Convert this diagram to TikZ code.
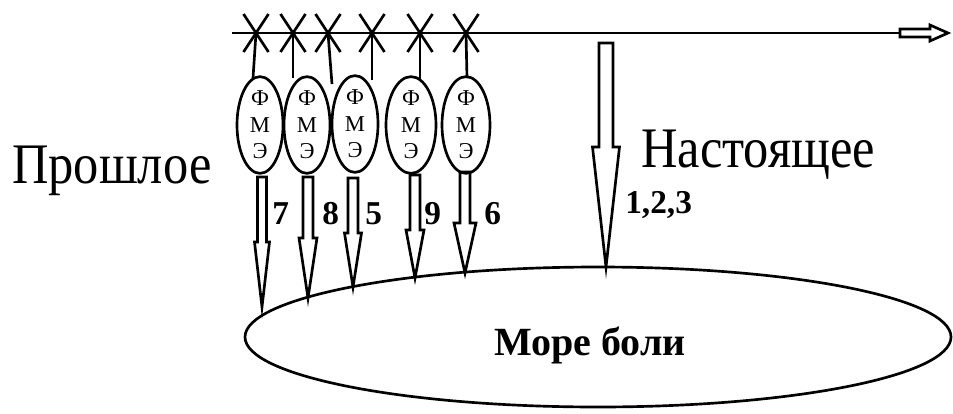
\documentclass[tikz,border=0pt]{standalone}
\usepackage{fontspec}
\IfFontExistsTF{LiberationSerif-Regular.ttf}
  {\setmainfont{LiberationSerif}[Extension=.ttf,UprightFont=*-Regular,BoldFont=*-Bold,ItalicFont=*-Italic,BoldItalicFont=*-BoldItalic]}
  {\setmainfont{Liberation Serif}}
\usetikzlibrary{calc,shapes.geometric}

% hollow downward arrow: start, tip, head length, half shaft width, half head width
\newcommand\hollowarrow[5]{%
  \draw[outline] ($(#1)+(-#4,0)$) -- ($(#1)+(#4,0)$) -- ($(#2)+(#4,-#3)$)
    -- ($(#2)+(#5,-#3)$) -- (#2) -- ($(#2)+(-#5,-#3)$) -- ($(#2)+(-#4,-#3)$) -- cycle;}

% cross mark on the time line
\newcommand\crossmark[1]{%
  \draw[outline] ($(#1)+(-12.5,-19)$) -- ($(#1)+(12.5,19)$)
                 ($(#1)+(12.5,-19)$) -- ($(#1)+(-12.5,19)$);}

% slightly condensed large words
\newcommand\narrowword[1]{\scalebox{0.88}[1]{#1}}

\begin{document}
\begin{tikzpicture}[x=0.75pt,y=-0.75pt,
  outline/.style={line width=2pt,line join=miter},
  memory/.style={draw,ellipse,line width=2pt,minimum width=34.5pt,minimum height=70.5pt,
    inner sep=0pt,align=center,font=\fontsize{17}{20}\selectfont},
  bigword/.style={font=\fontsize{43}{43}\selectfont,inner sep=0pt,anchor=base west},
  number/.style={font=\bfseries\fontsize{25}{25}\selectfont,inner sep=0pt,anchor=base west}]
\useasboundingbox (0,0) rectangle (953,414);

% time line with open arrow head
\coordinate (l0) at (232,33);
\coordinate (l1) at (900,33);
\draw[outline] (l0) -- (l1);
\draw[outline] (l1) ++(0,-4) -- ++(30,0) -- ++(0,-4) -- (948,33) -- (930,41) -- ++(0,-4) -- (900,37) -- cycle;

% crosses and their stems
\foreach \n/\x/\ex/\ey in {1/256/253/78, 2/293/293/78, 3/328/332/84, 4/372/372/80, 5/420/420/80, 6/466/467/78}{
  \coordinate (c\n) at (\x,33);
  \coordinate (s\n) at (\ex,\ey);
  \crossmark{c\n}
  \draw[outline] (c\n) -- (s\n);
}

% memory ellipses
\node[memory] (f1) at (260,125) {Ф\\М\\Э};
\node[memory] (f2) at (307,125) {Ф\\М\\Э};
\node[memory] (f3) at (355,124) {Ф\\М\\Э};
\node[memory,minimum width=37.5pt] (f4) at (411,125) {Ф\\М\\Э};
\node[memory,minimum width=36pt] (f5) at (466,125) {Ф\\М\\Э};

% the sea
\node[draw,ellipse,line width=2pt,minimum width=529.5pt,minimum height=105pt,inner sep=0pt] (sea) at (598,337) {};
\node[font=\bfseries\fontsize{30}{30}\selectfont,inner sep=0pt,anchor=base] (seatext) at (590,355) {Море боли};

% arrows from memories into the sea
\coordinate (a1) at (262,177); \coordinate (t1) at (262,307);
\coordinate (a2) at (308,177); \coordinate (t2) at (308,298);
\coordinate (a3) at (353,178); \coordinate (t3) at (353,287);
\coordinate (a4) at (415,175); \coordinate (t4) at (415,278);
\coordinate (a5) at (465,172); \coordinate (t5) at (465,273);
\coordinate (a0) at (606,43);  \coordinate (t0) at (606,267);
\hollowarrow{a1}{t1}{65}{4.5}{7.5}
\hollowarrow{a2}{t2}{60}{5}{9}
\hollowarrow{a3}{t3}{54}{5}{8.5}
\hollowarrow{a4}{t4}{48}{5}{9}
\hollowarrow{a5}{t5}{50}{5}{11}
\hollowarrow{a0}{t0}{120}{7}{13.5}

% labels
\node[number] (n7) at (272,224) {7};
\node[number] (n8) at (322,224) {8};
\node[number] (n5) at (365,224) {5};
\node[number] (n9) at (424,224) {9};
\node[number] (n6) at (484,224) {6};
\node[number] (n123) at (625,213) {1,2,3};
\node[bigword] (past) at (12,183) {\narrowword{Прошлое}};
\node[bigword] (present) at (641,167) {\narrowword{Настоящее}};
\end{tikzpicture}
\end{document}
